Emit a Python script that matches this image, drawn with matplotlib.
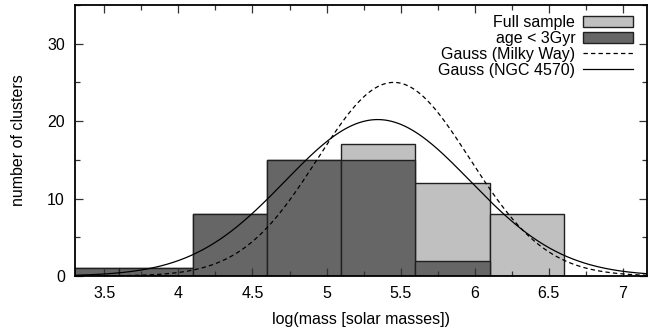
import numpy as np
import matplotlib
matplotlib.use("Agg")
import matplotlib.pyplot as plt
from matplotlib.patches import Patch
from matplotlib.lines import Line2D
from matplotlib.ticker import MultipleLocator

plt.rcParams['font.family'] = ['Liberation Sans', 'DejaVu Sans']

# histogram bins (log mass), left edges, width 0.5
bin_left = [3.1, 3.6, 4.1, 4.6, 5.1, 5.6, 6.1]
full_sample = [1, 1, 8, 15, 17, 12, 8]
young = [1, 1, 8, 15, 15, 2, 0]   # age < 3Gyr

# gaussian fits: amplitude, mean, sigma
gauss_mw = (25.0, 5.453, 0.513)
gauss_ngc = (20.2, 5.345, 0.625)

fs = 11.5

fig = plt.figure(figsize=(6.48, 3.31), dpi=100)
ax = fig.add_axes([0.1153, 0.1662, 0.8825, 0.8188])

ax.bar(bin_left, full_sample, width=0.5, align='edge', color='#c0c0c0',
       edgecolor='#202020', linewidth=1.0)
ax.bar(bin_left, young, width=0.5, align='edge', color='#666666',
       edgecolor='#202020', linewidth=1.0)

x = np.linspace(3.3, 7.2, 400)
a, m, s = gauss_mw
ax.plot(x, a * np.exp(-(x - m) ** 2 / (2 * s ** 2)), color='black', lw=0.9,
        ls=(0, (3.5, 2.5)))
a, m, s = gauss_ngc
ax.plot(x, a * np.exp(-(x - m) ** 2 / (2 * s ** 2)), color='black', lw=0.9)

ax.set_xlim(3.3, 7.16)
ax.set_ylim(0, 35)
ax.xaxis.set_minor_locator(MultipleLocator(0.25))
ax.yaxis.set_major_locator(MultipleLocator(10))
ax.yaxis.set_minor_locator(MultipleLocator(5))
ax.set_xticks([3.5, 4, 4.5, 5, 5.5, 6, 6.5, 7])
ax.set_xticklabels(['3.5', '4', '4.5', '5', '5.5', '6', '6.5', '7'])
ax.tick_params(which='both', direction='in', top=True, right=True,
               labelsize=fs, width=0.9, color='#333333')
ax.tick_params(which='major', length=6, pad=7)
ax.tick_params(which='minor', length=3.5)
for sp in ax.spines.values():
    sp.set_linewidth(1.3)

ax.set_xlabel('log(mass [solar masses])', fontsize=fs, labelpad=8)
ax.set_ylabel('number of clusters', fontsize=fs, labelpad=15)

handles = [Patch(facecolor='#c0c0c0', edgecolor='#202020', lw=1.0),
           Patch(facecolor='#666666', edgecolor='#202020', lw=1.0),
           Line2D([], [], color='black', lw=0.9, ls=(0, (3.5, 2.5))),
           Line2D([], [], color='black', lw=0.9)]
labels = ['Full sample', 'age < 3Gyr', 'Gauss (Milky Way)', 'Gauss (NGC 4570)']
ax.legend(handles, labels, loc='upper right', bbox_to_anchor=(0.976, 0.962),
          frameon=False, markerfirst=False, fontsize=fs, handlelength=3.1,
          handleheight=0.65, handletextpad=0.5, labelspacing=0.05,
          borderpad=0, borderaxespad=0)

fig.savefig('out.png', dpi=100)
